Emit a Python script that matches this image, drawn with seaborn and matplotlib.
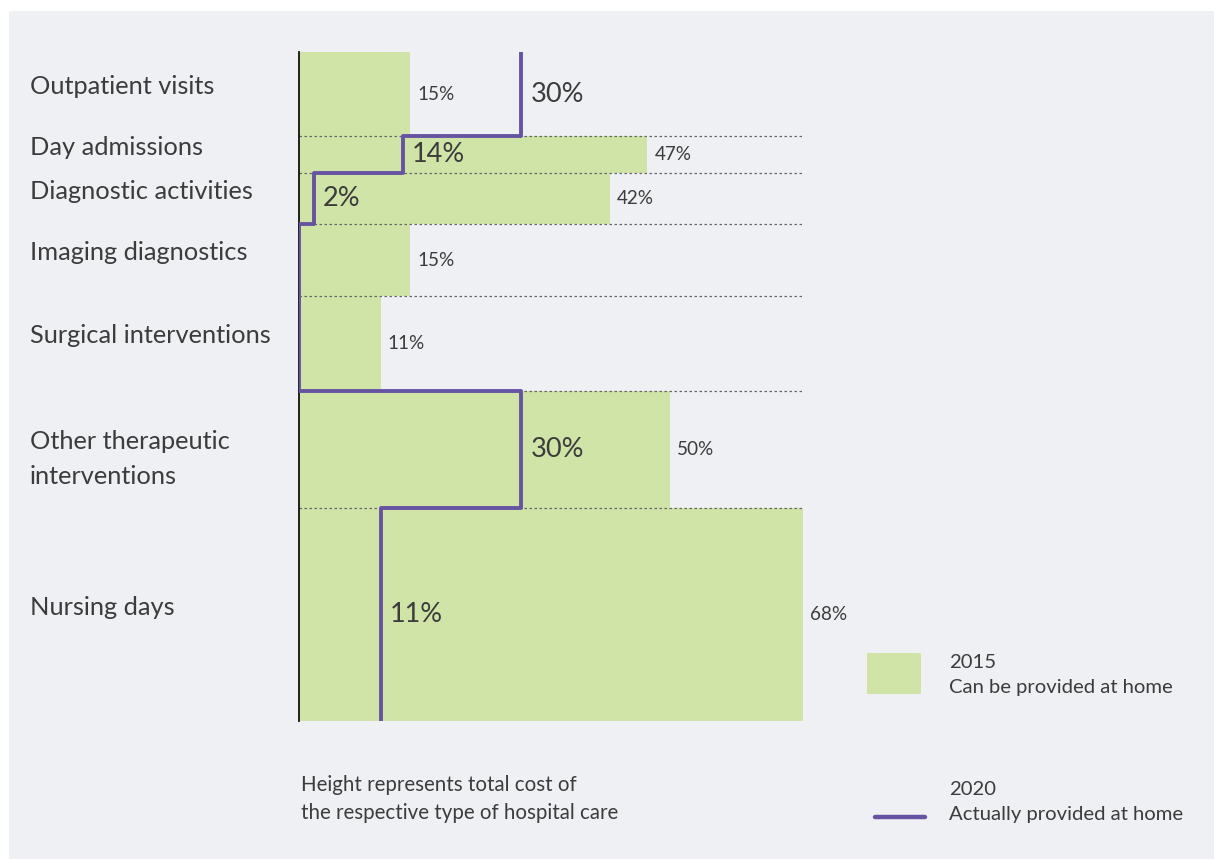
import numpy as np
import matplotlib
matplotlib.use("Agg")
import matplotlib.pyplot as plt
from matplotlib.patches import Rectangle
from matplotlib.lines import Line2D
import pandas as pd
import seaborn as sns

# ---- data ----
categories = ["Outpatient visits", "Day admissions", "Diagnostic activities",
              "Imaging diagnostics", "Surgical interventions",
              "Other therapeutic\ninterventions", "Nursing days"]
cost_share = [12.6, 5.5, 7.6, 10.8, 14.1, 17.6, 31.8]   # bar heights (share of total cost)
home_2015 = [15, 47, 42, 15, 11, 50, 68]                 # can be provided at home
home_2020 = [30, 14, 2, 0, 0, 30, 11]                    # actually provided at home

sns.set_theme(style="white")
plt.rcParams["font.family"] = ["Lato", "DejaVu Sans"]

GREEN = "#d0e4a8"
PURPLE = "#6654a3"
BG = "#eff0f3"
TXT = "#3c3c3c"

W, H = 1214, 859
fig = plt.figure(figsize=(W / 100, H / 100), dpi=100)
fig.patch.set_facecolor("white")

def fx(x):
    return x / W

def fy(y):
    return 1 - y / H

# grey panel
fig.add_artist(Rectangle((fx(9), 0), 1 - fx(9), fy(11), transform=fig.transFigure,
                         facecolor=BG, edgecolor="none", zorder=0))

ax = fig.add_axes([fx(299), fy(721), fx(803) - fx(299), fy(52) - fy(721)])
ax.set_facecolor("none")

heights = np.array(cost_share)
tops = np.concatenate([[0], np.cumsum(heights)[:-1]])
bottoms = tops + heights
centers = tops + heights / 2

ax.barh(centers, home_2015, height=heights, color=GREEN, linewidth=0, zorder=1)

# dotted separators
for b in bottoms[:-1]:
    ax.plot([0, 68], [b, b], linestyle=(0, (2, 2)), color="#666666", lw=0.9, zorder=2)

# step line for 2020
xs, ys = [], []
for v, t, b in zip(home_2020, tops, bottoms):
    xs += [v, v]
    ys += [t, b]
df_line = pd.DataFrame({"x": xs, "y": ys})
sns.lineplot(data=df_line, x="x", y="y", sort=False, estimator=None,
             color=PURPLE, lw=2.8, ax=ax, zorder=4)

ax.set_xlim(0, 68)
ax.set_ylim(100, 0)
ax.set_xlabel("")
ax.set_ylabel("")
ax.set_xticks([])
ax.set_yticks([])
for s in ["top", "right", "bottom"]:
    ax.spines[s].set_visible(False)
ax.spines["left"].set_color("#111111")
ax.spines["left"].set_linewidth(1.3)
ax.spines["left"].set_zorder(3)

# category labels (first line baseline at row centre)
for cat, c in zip(categories, centers):
    for k, line in enumerate(cat.split("\n")):
        ax.annotate(line, xy=(0, c), xycoords=("axes fraction", "data"),
                    xytext=(30 - 299, -35 * k), textcoords="offset pixels",
                    ha="left", va="baseline", fontsize=18.3, color=TXT,
                    annotation_clip=False)

for v, c in zip(home_2015, centers):
    ax.annotate(f"{v}%", xy=(v, c), xytext=(7, 0), textcoords="offset pixels",
                ha="left", va="center", fontsize=13.6, color=TXT, zorder=5,
                annotation_clip=False)

for v, c in zip(home_2020, centers):
    if v > 0:
        ax.annotate(f"{v}%", xy=(v, c), xytext=(9, 0), textcoords="offset pixels",
                    ha="left", va="center", fontsize=19.5, color=TXT, zorder=5,
                    annotation_clip=False)

# footnote
fig.text(fx(301), fy(799), "Height represents total cost of\nthe respective type of hospital care",
         ha="left", va="center", fontsize=14.8, color=TXT, linespacing=1.5)

# legend
fig.add_artist(Rectangle((fx(867), fy(694)), fx(921) - fx(867), fy(653) - fy(694),
                         transform=fig.transFigure, facecolor=GREEN, edgecolor="none", zorder=2))
fig.text(fx(949), fy(675), "2015\nCan be provided at home", ha="left", va="center",
         fontsize=14.6, color=TXT, linespacing=1.55)
fig.add_artist(Line2D([fx(875), fx(925)], [fy(817), fy(817)], transform=fig.transFigure,
                      color=PURPLE, lw=3.2, zorder=2))
fig.text(fx(949), fy(802), "2020\nActually provided at home", ha="left", va="center",
         fontsize=14.6, color=TXT, linespacing=1.55)

fig.savefig("out.png", dpi=100, facecolor=fig.get_facecolor())
